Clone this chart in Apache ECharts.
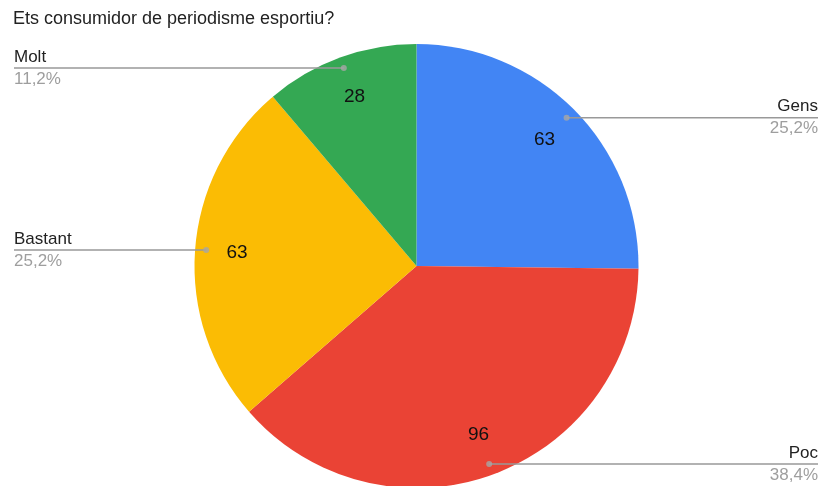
<!DOCTYPE html>
<html>
<head>
<meta charset="utf-8">
<script src="https://cdn.jsdelivr.net/npm/echarts@6/dist/echarts.min.js"></script>
<style>
html,body{margin:0;padding:0;background:#fff;}
#main{width:820px;height:486px;}
</style>
</head>
<body>
<div id="main"></div>
<script>
const title = 'Ets consumidor de periodisme esportiu?';
const categories = ['Gens', 'Poc', 'Bastant', 'Molt'];
const values = [63, 96, 63, 28];
const colors = ['#4285F4', '#EA4335', '#FBBC04', '#34A853'];

const CX = 416.5, CY = 266, R = 222;
const FONT = '"Liberation Sans", Arial, sans-serif';
const total = values.reduce((a, b) => a + b, 0);
const pct = v => (v / total * 100).toFixed(1).replace('.', ',') + '%';

const pieData = categories.map((c, i) => ({ name: c, value: values[i], itemStyle: { color: colors[i] } }));
const ghostData = categories.map((c, i) => ({ name: c, value: values[i] }));

// midpoints for dots (in value units along the angle axis)
let acc = 0;
const dotData = values.map(v => { const m = acc + v / 2; acc += v; return [0.95, m]; });

const chart = echarts.init(document.getElementById('main'), null, { renderer: 'canvas' });

const option = {
  animation: false,
  backgroundColor: '#ffffff',
  title: {
    text: title, left: 8, top: 5,
    textStyle: { fontFamily: FONT, fontSize: 18, fontWeight: 'normal', color: '#222222' }
  },
  polar: { center: [CX, CY], radius: R },
  angleAxis: { type: 'value', min: 0, max: total, startAngle: 90, clockwise: true, show: false },
  radiusAxis: { type: 'value', min: 0, max: 1, show: false },
  series: [
    {
      type: 'pie', center: [CX, CY], radius: [0, R], startAngle: 90, clockwise: true,
      silent: true, data: pieData, label: { show: false }, labelLine: { show: false },
      itemStyle: { borderWidth: 0 }
    },
    {
      type: 'pie', center: [CX, CY], radius: [132, R], startAngle: 90, clockwise: true,
      silent: true, data: ghostData,
      itemStyle: { color: 'rgba(0,0,0,0)', borderWidth: 0 },
      label: { show: true, position: 'inside', formatter: p => String(p.value),
               fontFamily: FONT, fontSize: 19, color: '#111111' },
      labelLine: { show: false }
    },
    {
      type: 'pie', center: [CX, CY], radius: [0, R * 0.95], startAngle: 90, clockwise: true,
      silent: true, data: ghostData, z: 5,
      itemStyle: { color: 'rgba(0,0,0,0)', borderWidth: 0 },
      label: {
        show: true, position: 'outside',
        formatter: p => '{n|' + p.name + '}\n{p|' + pct(p.value) + '}',
        rich: {
          n: { fontFamily: FONT, fontSize: 17, color: '#222222', lineHeight: 22 },
          p: { fontFamily: FONT, fontSize: 17, color: '#9e9e9e', lineHeight: 22 }
        }
      },
      labelLine: { show: true, length: 0, length2: 20, lineStyle: { color: '#999999', width: 1.5 } },
      labelLayout: function (params) {
        const pts = params.labelLinePoints;
        if (!pts) return {};
        const sx = pts[0][0], sy = pts[0][1];
        const isLeft = sx < CX;
        const W = chart.getWidth();
        const ex = isLeft ? 14 : W - 2;
        return {
          x: ex, y: sy, align: isLeft ? 'left' : 'right', verticalAlign: 'middle',
          labelLinePoints: [[sx, sy], [ex, sy], [ex, sy]]
        };
      }
    },
    {
      type: 'scatter', coordinateSystem: 'polar', data: dotData, symbol: 'circle', symbolSize: 6,
      silent: true, z: 10, itemStyle: { color: '#a6a6a6' }
    }
  ]
};
chart.setOption(option);
</script>
</body>
</html>
